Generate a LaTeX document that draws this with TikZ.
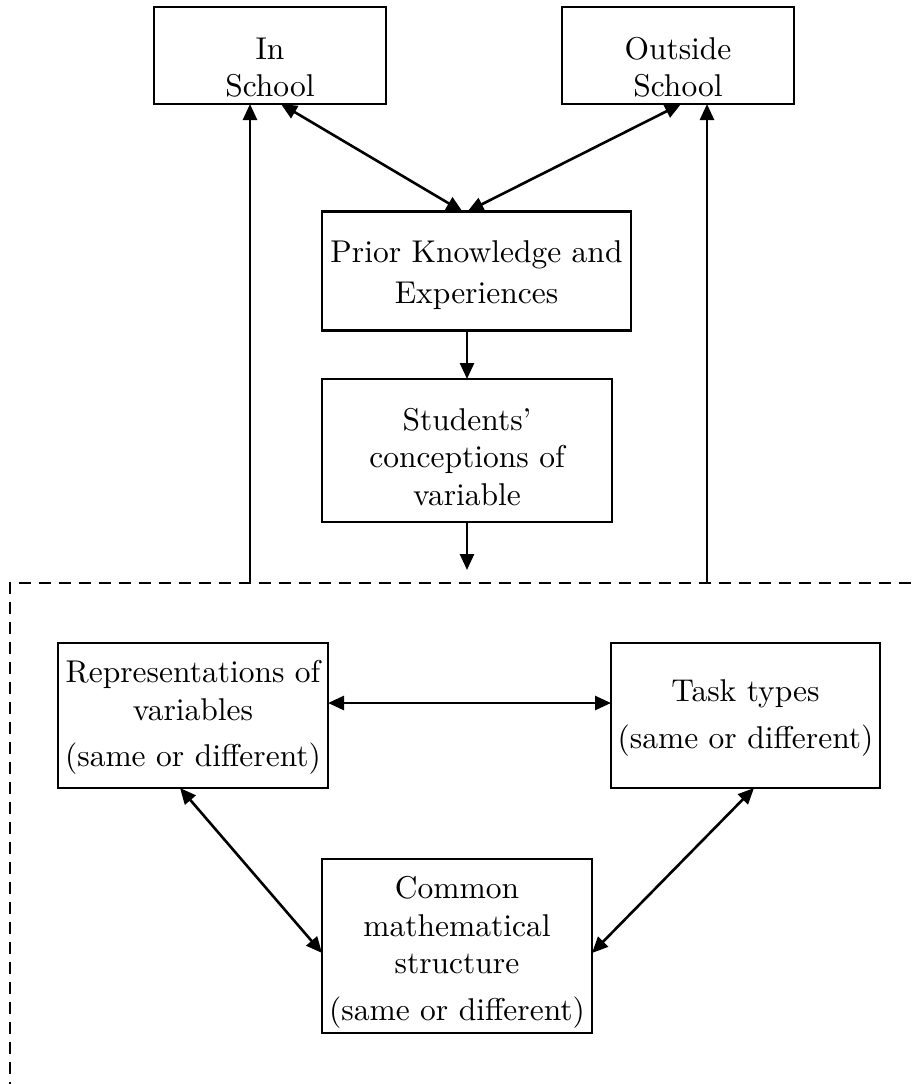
\documentclass[tikz,border=0pt]{standalone}
\usepackage{fontspec}
\setmainfont{lmroman10-regular}[Extension=.otf]
\usetikzlibrary{arrows.meta}
\begin{document}
\begin{tikzpicture}[x=1pt,y=-1pt,
  box/.style={draw, line width=2.8pt, rectangle, align=center, inner sep=0pt, outer sep=0pt,
    font=\fontsize{31.5}{37.5}\selectfont, text height=0pt, text depth=0pt},
  tip/.style={Triangle[length=16pt,width=14pt]},
  arr/.style={line width=2.6pt, -{Triangle[length=16pt,width=14pt]}},
  darr/.style={line width=2.6pt, {Triangle[length=16pt,width=14pt]}-{Triangle[length=16pt,width=14pt]}},
  frame/.style={line width=2.5pt, dash pattern=on 12pt off 8pt}]
\useasboundingbox (0,0) rectangle (911,1084);

\node[box, minimum width=232pt, minimum height=97pt, text height=82pt] (insch) at (270,55.5) {In\\School};
\node[box, minimum width=232pt, minimum height=97pt, text height=82pt] (outsch) at (678,55.5) {Outside\\School};
\node[box, minimum width=309pt, minimum height=119pt, text height=64pt] (prior) at (476.5,271) {Prior Knowledge and\\[3.5pt]Experiences};
\node[box, minimum width=290pt, minimum height=143pt, text height=109pt] (stud) at (467,450.5) {Students’\\conceptions of\\variable};
\node[box, minimum width=270pt, minimum height=145pt, text height=102.4pt] (repr) at (193,715.5) {Representations of\\variables\\[9pt](same or different)};
\node[box, minimum width=269pt, minimum height=145pt, text height=65.6pt] (task) at (745.5,715.5) {Task types\\[9pt](same or different)};
\node[box, minimum width=270pt, minimum height=174pt, text height=148pt] (common) at (457,946) {Common\\mathematical\\structure\\[9pt](same or different)};

\coordinate (fr) at (911,583);
\coordinate (fc) at (10,583);
\coordinate (fb) at (10,1084);
\coordinate (ls) at (250,583);
\coordinate (rs) at (707,583);
\coordinate (se) at (467,570);

\draw[frame] (fr) -- (fc) -- (fb);
\draw[arr] (ls) -- (ls |- insch.south);
\draw[arr] (rs) -- (rs |- outsch.south);
\draw[darr] ([xshift=11pt]insch.south) -- ([xshift=-14pt]prior.north);
\draw[darr] ([xshift=3pt]outsch.south) -- ([xshift=-9pt]prior.north);
\draw[arr] (prior.south -| stud.north) -- (stud.north);
\draw[arr] (stud.south) -- (se);
\draw[darr] ([yshift=12.5pt]repr.east) -- ([yshift=12.5pt]task.west);
\draw[darr] ([xshift=-13pt]repr.south) -- ([yshift=-7pt]common.west);
\draw[darr] ([xshift=8.5pt]task.south) -- ([yshift=-7pt]common.east);
\end{tikzpicture}
\end{document}
